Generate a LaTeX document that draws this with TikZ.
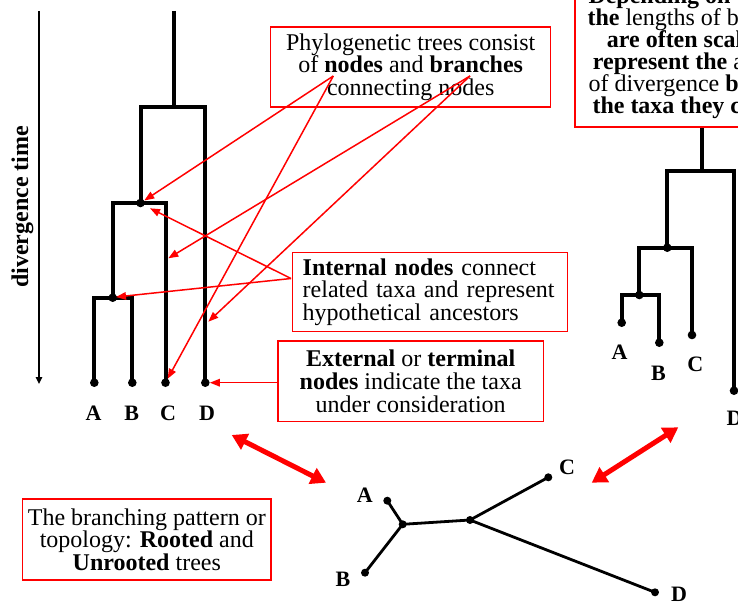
\documentclass[tikz,border=0pt]{standalone}
\usepackage{fontspec}
\setmainfont{Liberation Serif}
\usetikzlibrary{arrows.meta}
\begin{document}
\begin{tikzpicture}[x=1pt,y=-1pt,
  tree/.style={line width=4pt, line join=miter, line cap=butt},
  utree/.style={line width=2.8pt, line cap=round},
  dot/.style={circle, fill=black, inner sep=0pt, minimum size=8.6pt},
  udot/.style={circle, fill=black, inner sep=0pt, minimum size=8pt},
  lbl/.style={font=\fontsize{22}{24}\selectfont\bfseries, inner sep=0pt},
  box/.style={draw=red, line width=1.5pt, font=\fontsize{24}{22.6}\selectfont, align=center, inner sep=0pt},
  boxtext/.style={font=\fontsize{24}{22}\selectfont, inner sep=0pt, anchor=base west},
  redarr/.style={draw=red, line width=1.5pt, -{Triangle[length=10pt,width=7.5pt]}},
  bigarr/.style={draw=red, line width=5pt, {Triangle[length=15pt,width=17pt]}-{Triangle[length=15pt,width=17pt]}},
  axis/.style={line width=1.5pt, -{Triangle[length=7pt,width=6.5pt]}}
]
\useasboundingbox (0,0) rectangle (738,602);
\clip (0,0) rectangle (738,602);

% ---------- divergence time axis ----------
\coordinate (ax1) at (39,11);
\coordinate (ax2) at (39,384);
\draw[axis] (ax1) -- (ax2);
\node[rotate=90, font=\fontsize{24}{26}\selectfont\bfseries, inner sep=0pt] (dtl) at (22.5,207) {divergence time};

% ---------- rooted tree (left) ----------
\coordinate (rootTop) at (174.3,11);
\coordinate (rj) at (174.3,107);
\node[dot] (n2) at (140.5,203) {};
\node[dot] (n3) at (112.7,297.7) {};
\node[dot] (lA) at (94.3,382.7) {};
\node[dot] (lB) at (132.3,382.7) {};
\node[dot] (lC) at (165.5,382.7) {};
\node[dot] (lD) at (205.3,382.7) {};
\draw[tree] (rootTop) -- (rj);
\draw[tree] (n2.center) |- (rj) -| (lD.center);
\draw[tree] (n3.center) |- (n2.center) -| (lC.center);
\draw[tree] (lA.center) |- (n3.center) -| (lB.center);
\node[lbl] (tA) at (93.5,413.3) {A};
\node[lbl] (tB) at (131.7,413.3) {B};
\node[lbl] (tC) at (168,413.3) {C};
\node[lbl] (tD) at (207,413.3) {D};

% ---------- scaled tree (right) ----------
\coordinate (rtop) at (701.7,127.7);
\coordinate (rj2) at (701.7,170.7);
\node[dot] (n2r) at (667.3,247.7) {};
\node[dot] (n3r) at (639.3,295) {};
\node[dot] (lAr) at (621.7,322.7) {};
\node[dot] (lBr) at (659.3,342.7) {};
\node[dot] (lCr) at (692,335) {};
\node[dot] (lDr) at (734,390.7) {};
\draw[tree] (rtop) -- (rj2);
\draw[tree] (n2r.center) |- (rj2) -| (lDr.center);
\draw[tree] (n3r.center) |- (n2r.center) -| (lCr.center);
\draw[tree] (lAr.center) |- (n3r.center) -| (lBr.center);
\node[lbl] (rA) at (619.5,352.5) {A};
\node[lbl] (rB) at (658.5,373) {B};
\node[lbl] (rC) at (695.3,364.3) {C};
\node[lbl] (rD) at (734.6,418) {D};

% ---------- unrooted tree ----------
\node[udot] (uA) at (387.3,500.7) {};
\node[udot] (uj1) at (402.7,524.3) {};
\node[udot] (uB) at (365,572.7) {};
\node[udot] (uj2) at (470,520) {};
\node[udot] (uC) at (548.3,477.3) {};
\node[udot] (uD) at (655,592.3) {};
\draw[utree] (uA.center) -- (uj1.center) -- (uB.center);
\draw[utree] (uj1.center) -- (uj2.center);
\draw[utree] (uC.center) -- (uj2.center) -- (uD.center);
\node[lbl] (ulA) at (364.7,495) {A};
\node[lbl] (ulB) at (343,579) {B};
\node[lbl] (ulC) at (567,467.5) {C};
\node[lbl] (ulD) at (679,594.3) {D};

% ---------- boxes ----------
\node[box, minimum width=280pt, minimum height=80pt] (phylo) at (410.7,67)
  {Phylogenetic trees consist\\of \textbf{nodes} and \textbf{branches}\\connecting nodes};
\node[box, minimum width=275pt, minimum height=79.4pt, text width=254.2pt, inner xsep=10.4pt, align=left] (intbox) at (429.8,292)
  {\textbf{Internal nodes} connect\\related taxa and represent\\hypothetical ancestors};
\node[box, minimum width=265.3pt, minimum height=80.7pt] (extbox) at (410.7,381.3)
  {\textbf{External} or \textbf{terminal}\\\textbf{nodes} indicate the taxa\\under consideration};
\node[box, minimum width=248.3pt, minimum height=81pt] (topo) at (146.8,539.5)
  {The branching pattern or\\topology: \textbf{Rooted} and\\\textbf{Unrooted} trees};
\node[box, minimum width=186pt, minimum height=150pt, anchor=south west] (depbox) at (574,127.7) {};
\node[boxtext] (tr1) at (588.3,4) {\textbf{Depending on t}};
\node[boxtext] (tr2) at (587.3,26) {\textbf{the} lengths of b};
\node[boxtext] (tr3) at (606.7,48) {\textbf{are often scal}};
\node[boxtext] (tr4) at (592.7,69.5) {\textbf{represent the} a};
\node[boxtext] (tr5) at (588.3,91) {of divergence \textbf{b}};
\node[boxtext] (tr6) at (592.3,113) {\textbf{the taxa they c}};

% ---------- red connectors ----------
\coordinate (nodesw) at (333.3,76);
\coordinate (branchw) at (470,76);
\coordinate (intw) at (291,278.5);
\coordinate (cbr) at (168.3,258.3);
\coordinate (dbr) at (208.3,321.7);
\coordinate (n2tip) at (150,208.3);
\coordinate (n3tip) at (116,297);
\draw[redarr] (nodesw) -- (n2);
\draw[redarr] (nodesw) -- (lC);
\draw[redarr] (branchw) -- (cbr);
\draw[redarr] (branchw) -- (dbr);
\draw[redarr] (intw) -- (n2tip);
\draw[redarr] (intw) -- (n3tip);
\draw[redarr] (extbox.west |- lD) -- (lD);

% ---------- thick double arrows ----------
\coordinate (dl1) at (231.7,435);
\coordinate (dl2) at (326,482.7);
\coordinate (dr1) at (591.7,482.7);
\coordinate (dr2) at (678.3,427.3);
\draw[bigarr] (dl1) -- (dl2);
\draw[bigarr] (dr1) -- (dr2);
\end{tikzpicture}
\end{document}
